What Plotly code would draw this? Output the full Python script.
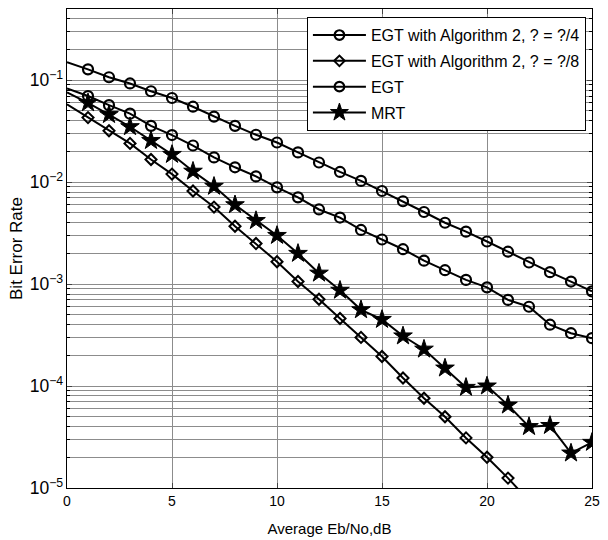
import plotly.graph_objects as go

x_vals = list(range(0, 26))

egt_alg2_pi4 = [0.150, 0.128, 0.107, 0.093, 0.078, 0.067, 0.055, 0.044, 0.0357, 0.0292,
                0.0245, 0.0196, 0.0156, 0.0126, 0.0103, 0.0082, 0.0065, 0.0051, 0.0040,
                0.00327, 0.00262, 0.00208, 0.00163, 0.00131, 0.00106, 0.00085]

x_pi8 = list(range(0, 23))
egt_alg2_pi8 = [0.058, 0.043, 0.032, 0.024, 0.0167, 0.012, 0.0082, 0.0057, 0.0037, 0.0025,
                0.00166, 0.00106, 0.00071, 0.00046, 0.00030, 0.000195, 0.00012, 7.6e-5,
                5.0e-5, 3.1e-5, 2.0e-5, 1.25e-5, 7.5e-6]

egt = [0.083, 0.070, 0.057, 0.047, 0.0357, 0.029, 0.0229, 0.0175, 0.014, 0.0114,
       0.0089, 0.0071, 0.0054, 0.0045, 0.0034, 0.00274, 0.0022, 0.0017, 0.00137,
       0.0011, 0.00093, 0.0007, 0.0006, 0.0004, 0.00033, 0.000295]

mrt = [0.076, 0.060, 0.046, 0.035, 0.0256, 0.0187, 0.0128, 0.0091, 0.0060, 0.0042,
       0.0030, 0.0020, 0.00128, 0.00087, 0.00056, 0.00045, 0.00031, 0.00023, 0.00015,
       9.7e-5, 1.0e-4, 6.5e-5, 4.0e-5, 4.1e-5, 2.2e-5, 2.8e-5]

names = ["EGT with Algorithm 2, ? = ?/4", "EGT with Algorithm 2, ? = ?/8", "EGT", "MRT"]

FONT = "Liberation Sans, Arial, sans-serif"

def sizes(n, s):
    return [0] + [s] * (n - 1)

fig = go.Figure()
fig.add_trace(go.Scatter(
    x=x_vals, y=egt_alg2_pi4, name=names[0], mode="lines+markers", legendgroup="a",
    line=dict(color="black", width=2),
    marker=dict(symbol="circle-open", size=sizes(len(x_vals), 10), color="black",
                opacity=1, line=dict(color="black", width=2.2))))
fig.add_trace(go.Scatter(
    x=x_pi8, y=egt_alg2_pi8, name=names[1], mode="lines+markers", legendgroup="b",
    line=dict(color="black", width=2),
    marker=dict(symbol="diamond-open", size=sizes(len(x_pi8), 8.5), color="black",
                opacity=1, line=dict(color="black", width=2))))
fig.add_trace(go.Scatter(
    x=x_vals, y=egt, name=names[2], mode="lines+markers", legendgroup="c",
    line=dict(color="black", width=2),
    marker=dict(symbol="circle-open", size=sizes(len(x_vals), 10), color="black",
                opacity=1, line=dict(color="black", width=2.2))))
fig.add_trace(go.Scatter(
    x=x_vals, y=mrt, name=names[3], mode="lines+markers", legendgroup="d",
    line=dict(color="black", width=2),
    marker=dict(symbol="star", size=sizes(len(x_vals), 14), color="black",
                opacity=1, line=dict(color="black", width=1))))

grid_col = "#8c8c8c"

fig.update_layout(
    width=608, height=540,
    margin=dict(l=67, r=16, t=9, b=52, autoexpand=False),
    paper_bgcolor="white", plot_bgcolor="white",
    font=dict(family=FONT, size=15, color="black"),
    showlegend=True,
    legend=dict(x=0.457, y=0.983, xanchor="left", yanchor="top",
                bgcolor="white", bordercolor="black", borderwidth=1,
                traceorder="grouped", tracegroupgap=2, itemwidth=53,
                font=dict(family=FONT, size=16, color="black")),
    xaxis=dict(range=[0, 25], tick0=0, dtick=5, ticks="inside", ticklen=5,
               showline=True, linecolor="black", linewidth=1, mirror="ticks",
               showgrid=True, gridcolor=grid_col, gridwidth=1, zeroline=False,
               tickfont=dict(size=14),
               title=dict(text="Average Eb/No,dB", font=dict(size=15), standoff=15)),
    yaxis=dict(type="log", range=[-5, -0.301], dtick=1, exponentformat="power",
               ticks="inside", ticklen=5,
               showline=True, linecolor="black", linewidth=1, mirror="ticks",
               showgrid=True, gridcolor=grid_col, gridwidth=1, zeroline=False,
               tickfont=dict(size=14),
               minor=dict(ticks="inside", ticklen=3, dtick="D1", showgrid=True,
                          gridcolor=grid_col, gridwidth=1, tickcolor="black"),
               title=dict(text="Bit Error Rate", font=dict(size=17), standoff=2)),
)

fig.write_html("out.html", config={"displayModeBar": False},
               post_script="document.body.style.margin='0';document.body.style.padding='0';")
